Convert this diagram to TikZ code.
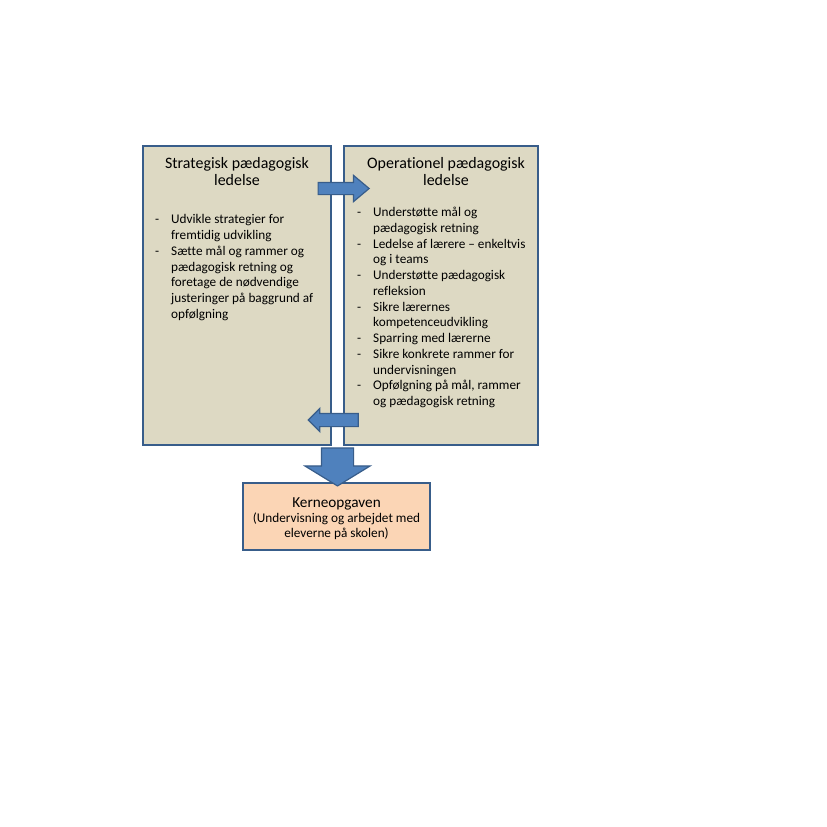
\documentclass[tikz,border=0pt]{standalone}
\usepackage{fontspec}
\setmainfont{Carlito}[Ligatures=NoCommon]
\usetikzlibrary{positioning, shapes.arrows}
\definecolor{boxbeige}{HTML}{DDD9C3}
\definecolor{boxblue}{HTML}{385D8A}
\definecolor{arrowblue}{HTML}{4F81BD}
\definecolor{corepeach}{HTML}{FBD5B5}
\newcommand{\dashitem}{\makebox[16bp][l]{-}}
\newcommand{\cont}{\hspace*{16bp}}

\begin{document}
\begin{tikzpicture}[x=1bp, y=-1bp,
  box/.style={draw=boxblue, line width=2.4bp, fill=boxbeige, inner sep=0pt},
  titletext/.style={font=\fontsize{16}{17.5}\selectfont, align=center, inner sep=0pt},
  listtext/.style={font=\fontsize{13.3}{15.8}\selectfont, align=left, inner sep=0pt},
  blockarrow/.style={single arrow, fill=arrowblue, draw=boxblue, line width=1.2bp}]
  \fill[white] (0,0) rectangle (827,827);
  \useasboundingbox (0,0) rectangle (827,827);

  % Strategic box
  \node[box, minimum width=188bp, minimum height=299bp] (strat) at (237,295.5) {};
  \node[titletext, anchor=north] (strat-title) at (237,157) {Strategisk pædagogisk\\ledelse};
  \node[listtext, anchor=north west] (strat-list) at (155,214.5)
       {\dashitem Udvikle strategier for\\
        \cont fremtidig udvikling\\
        \dashitem Sætte mål og rammer og\\
        \cont pædagogisk retning og\\
        \cont foretage de nødvendige\\
        \cont justeringer på baggrund af\\
        \cont opfølgning};

  % Operational box
  \node[box, minimum width=194bp, minimum height=299bp] (oper) at (441,295.5) {};
  \node[titletext, anchor=north] (oper-title) at (446,157) {Operationel pædagogisk\\ledelse};
  \node[listtext, anchor=north west] (oper-list) at (357,207)
       {\dashitem Understøtte mål og\\
        \cont pædagogisk retning\\
        \dashitem Ledelse af lærere -- enkeltvis\\
        \cont og i teams\\
        \dashitem Understøtte pædagogisk\\
        \cont refleksion\\
        \dashitem Sikre lærernes\\
        \cont kompetenceudvikling\\
        \dashitem Sparring med lærerne\\
        \dashitem Sikre konkrete rammer for\\
        \cont undervisningen\\
        \dashitem Opfølgning på mål, rammer\\
        \cont og pædagogisk retning};

  % Core task
  \node[box, fill=corepeach, minimum width=187bp, minimum height=67bp] (kerne) at (336.5,516.5) {};
  \node[font=\fontsize{15.3}{17}\selectfont, inner sep=0pt, anchor=base] (kerne-title) at (336.5,507) {Kerneopgaven};
  \node[font=\fontsize{13.3}{14.5}\selectfont, align=center, inner sep=0pt, anchor=north] (kerne-sub) at (336.5,513)
       {(Undervisning og arbejdet med\\eleverne på skolen)};

  % Arrows
  \node[blockarrow, minimum height=51bp, inner xsep=0pt, inner ysep=5.5bp, single arrow head extend=7bp,
        single arrow tip angle=80] (push) at (340,188.5) {};
  \node[blockarrow, minimum height=50bp, inner xsep=0pt, inner ysep=6bp, single arrow head extend=5bp,
        single arrow tip angle=90, shape border rotate=180] (feedback) at (336.5,420) {};
  \node[blockarrow, minimum height=38bp, inner ysep=0pt, inner xsep=15.5bp, single arrow head extend=16.5bp,
        single arrow tip angle=117, shape border rotate=270] (down) at (337.5,462) {};
\end{tikzpicture}
\end{document}
